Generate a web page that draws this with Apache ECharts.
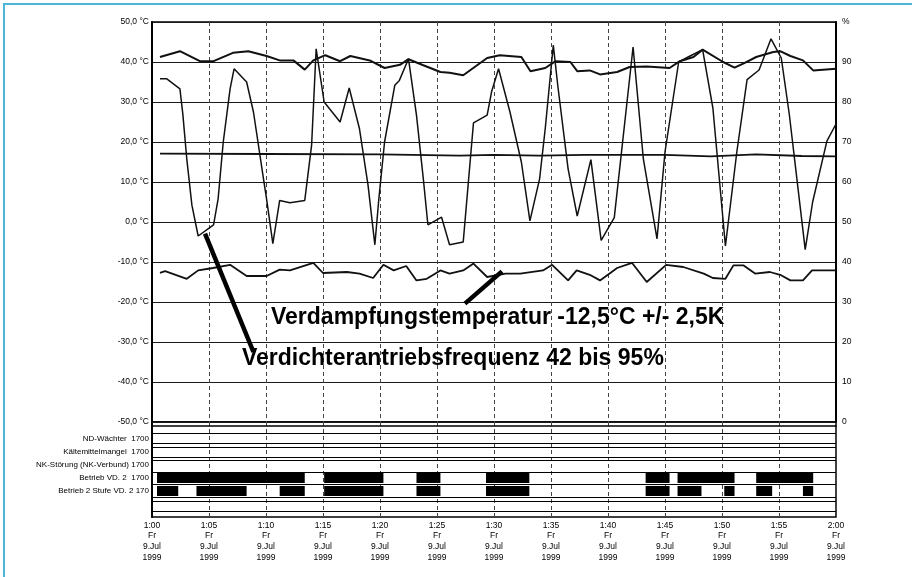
<!DOCTYPE html>
<html><head><meta charset="utf-8">
<script src="https://cdn.jsdelivr.net/npm/echarts@6/dist/echarts.min.js"></script>
<style>html,body{margin:0;padding:0;background:#fff}#c{width:912px;height:577px}</style>
</head><body><div id="c"></div><script>
// ---- tick labels ----
const timeLabels = ['1:00','1:05','1:10','1:15','1:20','1:25','1:30','1:35','1:40','1:45','1:50','1:55','2:00'];
const timeSubLabels = ['Fr','9.Jul','1999'];
const tempTickLabels = ['-50,0 °C','-40,0 °C','-30,0 °C','-20,0 °C','-10,0 °C','0,0 °C','10,0 °C','20,0 °C','30,0 °C','40,0 °C','50,0 °C'];
const pctTickLabels = ['0','10','20','30','40','50','60','70','80','90','%'];
const rowLabels = ['ND-Wächter  1700','Kältemittelmangel  1700','NK-Störung (NK-Verbund) 1700','Betrieb VD. 2  1700','Betrieb 2 Stufe VD. 2 170'];

// ---- series values: [minutes after 1:00, value] ----
const condensingTemp = [[0.7,41.25],[2.45,42.7],[4.2,40.2],[5.4,40.2],[7.1,42.3],[8.45,42.7],[10.05,41.5],[11.2,40.4],[12.4,40.4],[13.4,38.1],[14.15,40.4],[15.2,41.7],[16.5,40.2],[17.4,41.5],[19.1,40.4],[20.4,38.5],[21.75,39.3],[22.5,40.7],[23.8,39.2],[25.3,37.5],[26.1,37.3],[27.3,36.7],[29.4,41],[30.5,41.7],[32.4,41.25],[33.2,37.7],[34.5,38.5],[35.4,40.2],[36.7,40],[37.3,37.7],[38.4,37.9],[39.3,36.9],[40.8,37.5],[41.9,38.75],[43.4,38.9],[45.4,38.5],[46.3,40.2],[47.5,41.25],[48.3,43.1],[50.1,40],[51.1,38.6],[52.0,39.8],[53.0,41.25],[54.5,42.5],[55.1,42.7],[56.0,41.5],[57.1,40.4],[58.0,37.9],[60,38.3]];
const compressorFreqPct = [[0.7,85.8],[1.3,85.8],[2.45,83.3],[2.7,77.1],[3.05,65.8],[3.5,54.2],[4.05,46.5],[5.4,49.3],[5.8,55.8],[6.25,70],[6.85,83.3],[7.2,88.3],[8.3,85],[8.9,77.5],[9.8,60.4],[10.05,55.8],[10.6,44.6],[11.2,55.4],[12.1,54.8],[13.4,55.4],[14.0,69.2],[14.4,93.3],[15.1,80],[16.5,75],[17.3,83.5],[18.2,73.3],[18.95,59.2],[19.55,44.3],[19.9,55.8],[20.4,70],[21.3,84.2],[21.7,85.4],[22.5,90.8],[23.2,76.7],[23.8,60.8],[24.2,49.3],[25.4,51.2],[26.1,44.3],[27.3,45],[28.2,74.8],[29.4,76.7],[29.8,82.7],[30.4,88.3],[31.4,77.5],[32.4,65],[33.15,50.3],[34.0,60.8],[34.5,73.5],[35.2,94.2],[35.6,84],[36.5,63.3],[37.3,51.5],[38.5,65.6],[39.4,45.4],[40.55,51.1],[41.9,86],[42.2,93.75],[43.1,65.8],[44.3,45.8],[45.0,67.5],[46.2,90],[47.2,91.5],[48.3,93.1],[49.2,78.5],[50.3,44],[51.3,67.5],[52.2,85.6],[53.25,88],[54.3,95.8],[55.2,91],[55.9,77],[57.3,43.1],[57.95,55],[59.2,70.2],[60,74.5]];
const flatTemp = [[0.7,17.1],[10,17.0],[20,16.9],[27,16.6],[30,16.8],[34,16.6],[38,16.8],[45,16.8],[49,16.4],[53,16.9],[57,16.5],[60,16.4]];
const evaporationTemp = [[0.7,-12.7],[1.15,-12.3],[3.05,-14.2],[4.05,-12.1],[5.35,-11.5],[6.85,-10.7],[8.3,-13.5],[10.05,-13.5],[11.2,-11.9],[12.1,-12.1],[14.15,-10.2],[15.0,-12.75],[17.1,-12.5],[18.2,-12.9],[19.4,-14],[20.3,-10.7],[21.2,-12.1],[22.3,-11],[23.2,-14.6],[24.1,-14.2],[25.3,-12.1],[26.1,-12.9],[27.3,-12.1],[28.2,-10.4],[29.4,-13.75],[31.0,-12.9],[32.3,-12.9],[34.3,-12.1],[35.1,-10.7],[36.5,-14.6],[37.25,-12.1],[38.4,-13.2],[39.3,-14.6],[40.8,-11.5],[42.1,-10.2],[43.4,-15],[45.1,-10.7],[46.6,-11.25],[48.4,-12.9],[49.2,-14],[50.3,-14.2],[51.0,-10.85],[51.9,-10.85],[52.9,-12.9],[54.2,-12.5],[55.1,-13.2],[56.0,-14.6],[57.1,-14.6],[57.9,-12.1],[60,-12.1]];

// digital states: [start min, end min] where "on"
const vd2On = [[0.44,13.4],[15.1,20.3],[23.2,25.3],[29.3,33.1],[43.3,45.4],[46.1,51.1],[53.0,58.0]];
const stage2On = [[0.44,2.3],[3.9,8.3],[11.2,13.4],[15.1,20.3],[23.2,25.3],[29.3,33.1],[43.3,45.4],[46.1,48.2],[50.2,51.1],[53.0,54.4],[57.1,58.0]];

// annotation pointers (data coordinates: [min, °C])
const freqPointer = [[4.65,-2.9],[8.9,-32.5]];
const evapPointer = [[27.45,-20.4],[30.7,-12.35]];
const annotationTexts = ['Verdampfungstemperatur -12,5°C +/- 2,5K','Verdichterantriebsfrequenz 42 bis 95%'];

const digitalData = [];
vd2On.forEach(d => digitalData.push([d[0], d[1], 4]));
stage2On.forEach(d => digitalData.push([d[0], d[1], 5]));
const rowLineLevels = [0.55,1.32,1.62,2.39,2.62,3.55,4.47,5.47,5.78,6.55];

const INK = '#000';
const FONT = '"Liberation Sans", Arial, sans-serif';
const chart = echarts.init(document.getElementById('c'));
const dashed = {show:true, lineStyle:{color:'#444', width:1, type:[4,3]}};
chart.setOption({
  animation:false,
  backgroundColor:'#fff',
  grid:[
    {left:152, top:22, width:684, height:400, show:true, borderColor:'#000', borderWidth:1.5},
    {left:152, top:422, width:684, height:95, show:true, borderColor:'#000', borderWidth:1.5}
  ],
  xAxis:[
    {type:'value', gridIndex:0, min:0, max:60, interval:5, axisLine:{show:false}, axisTick:{show:false}, axisLabel:{show:false}, splitLine:dashed},
    {type:'value', gridIndex:1, min:0, max:60, interval:5, axisLine:{show:true, lineStyle:{color:'#000', width:1.5}}, axisTick:{show:false}, splitLine:dashed,
     axisLabel:{show:true, showMinLabel:true, showMaxLabel:true, margin:3, color:INK, fontFamily:FONT, fontSize:8.5, lineHeight:10.7,
       formatter:v => timeLabels[Math.round(v/5)] + '\n' + timeSubLabels.join('\n')}}
  ],
  yAxis:[
    {type:'value', gridIndex:0, min:-50, max:50, interval:10, position:'left',
     axisLine:{show:true, lineStyle:{color:'#000', width:2}}, axisTick:{show:false},
     axisLabel:{margin:3, color:INK, fontFamily:FONT, fontSize:8.5, formatter:v => tempTickLabels[Math.round((v+50)/10)]},
     splitLine:{show:true, lineStyle:{color:'#1a1a1a', width:1}}},
    {type:'value', gridIndex:0, min:0, max:100, interval:10, position:'right',
     axisLine:{show:true, lineStyle:{color:'#000', width:2}}, axisTick:{show:false},
     axisLabel:{margin:6, color:INK, fontFamily:FONT, fontSize:8.5, formatter:v => pctTickLabels[Math.round(v/10)]},
     splitLine:{show:false}},
    {type:'value', gridIndex:1, min:-0.3, max:7.0, inverse:true, position:'left',
     axisLine:{show:true, lineStyle:{color:'#000', width:2}}, axisTick:{show:false},
     axisLabel:{margin:3, color:INK, fontFamily:FONT, fontSize:8, customValues:[1,2,3,4,5], formatter:v => rowLabels[Math.round(v)-1] || ''},
     splitLine:{show:false}}
  ],
  series:[
    {type:'line', name:'cond', xAxisIndex:0, yAxisIndex:0, data:condensingTemp, showSymbol:false, symbol:'none', lineStyle:{color:'#111', width:2}, z:3},
    {type:'line', name:'flat', xAxisIndex:0, yAxisIndex:0, data:flatTemp, showSymbol:false, symbol:'none', lineStyle:{color:'#111', width:1.8}, z:3},
    {type:'line', name:'freq', xAxisIndex:0, yAxisIndex:1, data:compressorFreqPct, showSymbol:false, symbol:'none', lineStyle:{color:'#111', width:1.5}, z:3},
    {type:'line', name:'evap', xAxisIndex:0, yAxisIndex:0, data:evaporationTemp, showSymbol:false, symbol:'none', lineStyle:{color:'#111', width:1.8}, z:3},
    {type:'line', name:'ptr1', xAxisIndex:0, yAxisIndex:0, data:freqPointer, showSymbol:false, symbol:'none', lineStyle:{color:'#000', width:4.5}, z:4},
    {type:'line', name:'ptr2', xAxisIndex:0, yAxisIndex:0, data:evapPointer, showSymbol:false, symbol:'none', lineStyle:{color:'#000', width:4.5}, z:4},
    {type:'custom', name:'digital', xAxisIndex:1, yAxisIndex:2, data:digitalData, z:3,
     renderItem:(params, api) => {
       const s = api.coord([api.value(0), api.value(2)]);
       const e = api.coord([api.value(1), api.value(2)]);
       const h = api.size([0, 0.77])[1];
       return {type:'rect', shape:{x:s[0], y:s[1]-h/2, width:e[0]-s[0], height:h}, style:{fill:'#000'}};
     },
     markLine:{silent:true, symbol:'none', label:{show:false}, lineStyle:{color:'#000', width:1, type:'solid'},
       data: rowLineLevels.map(v => ({yAxis:v}))}
    }
  ],
  graphic:[
    {type:'line', shape:{x1:3, y1:4, x2:912, y2:4}, style:{stroke:'#4cb6d6', lineWidth:2}, silent:true},
    {type:'line', shape:{x1:4, y1:3, x2:4, y2:577}, style:{stroke:'#4cb6d6', lineWidth:2}, silent:true},
    {type:'text', left:271, top:306, style:{text:annotationTexts[0], fill:'#000', font:'bold 23px ' + FONT}, z:10},
    {type:'text', left:242, top:347, style:{text:annotationTexts[1], fill:'#000', font:'bold 23px ' + FONT}, z:10}
  ]
});
</script></body></html>
